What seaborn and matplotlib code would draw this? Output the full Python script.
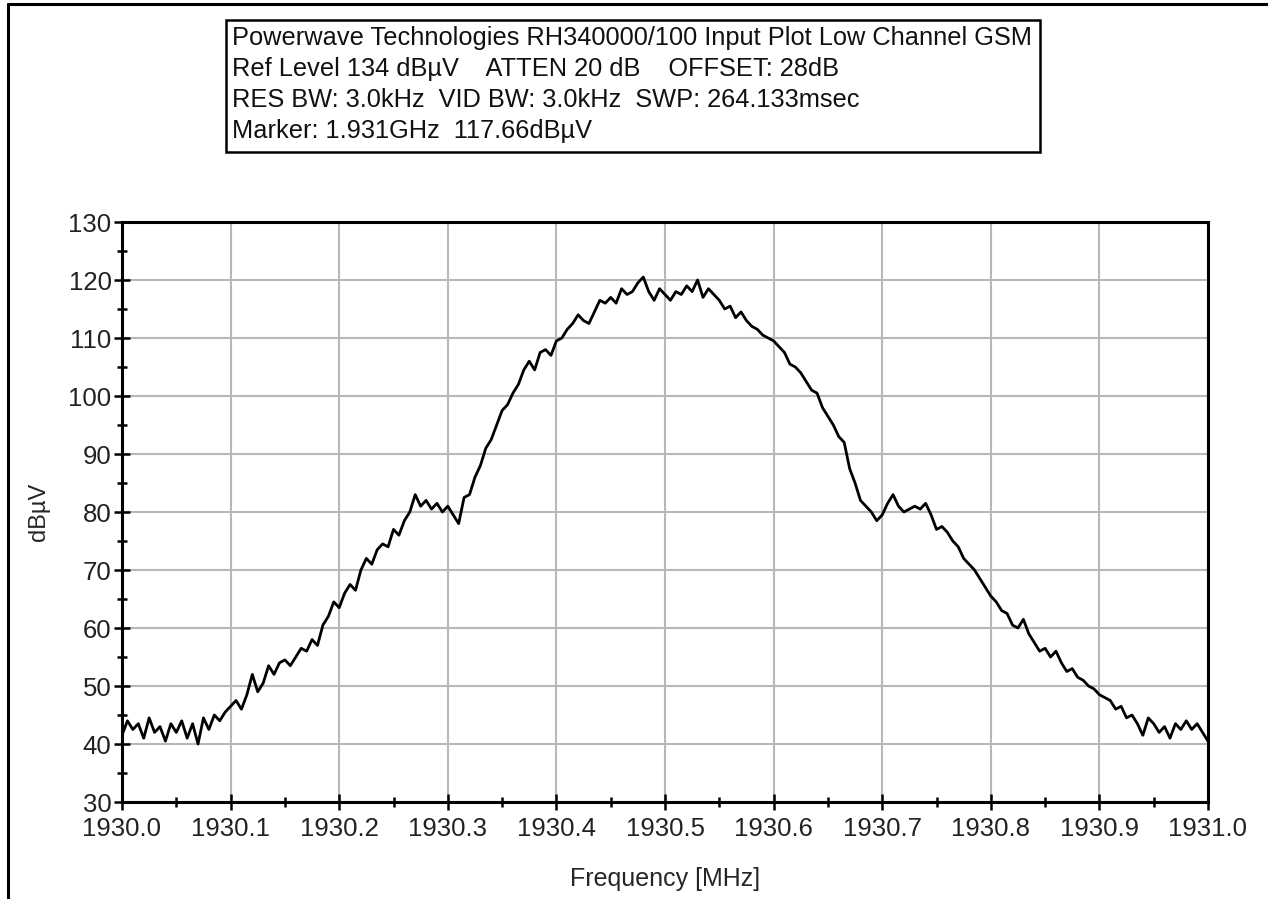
import numpy as np
import pandas as pd
import matplotlib
matplotlib.use("Agg")
import matplotlib.pyplot as plt
import seaborn as sns
from matplotlib.ticker import MultipleLocator, FormatStrFormatter
from matplotlib.lines import Line2D
from matplotlib.patches import Rectangle

# ---- data ----
freq_start = 1930.0   # MHz
freq_step = 0.005     # MHz
level_dbuv = [
    41.5, 44.0, 42.5, 43.5, 41.0, 44.5, 42.0, 43.0, 40.5, 43.5,
    42.0, 44.0, 41.0, 43.5, 40.0, 44.5, 42.5, 45.0, 44.0, 45.5,
    46.5, 47.5, 46.0, 48.5, 52.0, 49.0, 50.5, 53.5, 52.0, 54.0,
    54.5, 53.5, 55.0, 56.5, 56.0, 58.0, 57.0, 60.5, 62.0, 64.5,
    63.5, 66.0, 67.5, 66.5, 70.0, 72.0, 71.0, 73.5, 74.5, 74.0,
    77.0, 76.0, 78.5, 80.0, 83.0, 81.0, 82.0, 80.5, 81.5, 80.0,
    81.0, 79.5, 78.0, 82.5, 83.0, 86.0, 88.0, 91.0, 92.5, 95.0,
    97.5, 98.5, 100.5, 102.0, 104.5, 106.0, 104.5, 107.5, 108.0, 107.0,
    109.5, 110.0, 111.5, 112.5, 114.0, 113.0, 112.5, 114.5, 116.5, 116.0,
    117.0, 116.0, 118.5, 117.5, 118.0, 119.5, 120.5, 118.0, 116.5, 118.5,
    117.5, 116.5, 118.0, 117.5, 119.0, 118.0, 120.0, 117.0, 118.5, 117.5,
    116.5, 115.0, 115.5, 113.5, 114.5, 113.0, 112.0, 111.5, 110.5, 110.0,
    109.5, 108.5, 107.5, 105.5, 105.0, 104.0, 102.5, 101.0, 100.5, 98.0,
    96.5, 95.0, 93.0, 92.0, 87.5, 85.0, 82.0, 81.0, 80.0, 78.5,
    79.5, 81.5, 83.0, 81.0, 80.0, 80.5, 81.0, 80.5, 81.5, 79.5,
    77.0, 77.5, 76.5, 75.0, 74.0, 72.0, 71.0, 70.0, 68.5, 67.0,
    65.5, 64.5, 63.0, 62.5, 60.5, 60.0, 61.5, 59.0, 57.5, 56.0,
    56.5, 55.0, 56.0, 54.0, 52.5, 53.0, 51.5, 51.0, 50.0, 49.5,
    48.5, 48.0, 47.5, 46.0, 46.5, 44.5, 45.0, 43.5, 41.5, 44.5,
    43.5, 42.0, 43.0, 41.0, 43.5, 42.5, 44.0, 42.5, 43.5, 42.0,
    40.5,
]
freq_mhz = freq_start + freq_step * np.arange(len(level_dbuv))

info_lines = [
    "Powerwave Technologies RH340000/100 Input Plot Low Channel GSM",
    "Ref Level 134 dB\u00b5V    ATTEN 20 dB    OFFSET: 28dB",
    "RES BW: 3.0kHz  VID BW: 3.0kHz  SWP: 264.133msec",
    "Marker: 1.931GHz  117.66dB\u00b5V",
]
x_label = "Frequency [MHz]"
y_label = "dB\u00b5V"

# ---- style ----
sns.set_style("white")
plt.rcParams["font.family"] = ["Liberation Sans", "DejaVu Sans"]

W, H = 1268, 899
fig = plt.figure(figsize=(W / 100, H / 100), dpi=100)
ax = fig.add_axes([122 / W, 1 - 802 / H, (1208 - 122) / W, (802 - 222) / H])

df = pd.DataFrame({"freq": freq_mhz, "level": level_dbuv})
sns.lineplot(data=df, x="freq", y="level", ax=ax, color="black",
             linewidth=2.0, zorder=3)

ax.set_xlim(1930.0, 1931.0)
ax.set_ylim(30, 130)
ax.xaxis.set_major_locator(MultipleLocator(0.1))
ax.xaxis.set_minor_locator(MultipleLocator(0.05))
ax.xaxis.set_major_formatter(FormatStrFormatter("%.1f"))
ax.yaxis.set_major_locator(MultipleLocator(10))
ax.yaxis.set_minor_locator(MultipleLocator(5))

ax.grid(True, which="major", color="#b8b8b8", linewidth=1.5, zorder=0)
ax.set_axisbelow(True)

for s in ax.spines.values():
    s.set_visible(True)
    s.set_color("black")
    s.set_linewidth(2.2)

ax.tick_params(axis="both", which="both", bottom=True, left=True,
               top=False, right=False)
ax.tick_params(axis="both", which="major", direction="inout", length=11,
               width=1.8, color="black", labelsize=18.5, labelcolor="#222222")
ax.tick_params(axis="both", which="minor", direction="inout", length=7,
               width=1.8, color="black")
ax.tick_params(axis="x", which="major", pad=5)
ax.tick_params(axis="y", which="major", pad=2)

ax.set_xlabel(x_label, fontsize=18, labelpad=19)
ax.set_ylabel(y_label, fontsize=17, labelpad=13)

# ---- info box ----
box = Rectangle((226 / W, 1 - 152 / H), (1040 - 226) / W, (152 - 20) / H,
                transform=fig.transFigure, fill=False, edgecolor="black",
                linewidth=1.8)
fig.add_artist(box)
for k, line in enumerate(info_lines):
    fig.text(232 / W, 1 - (38 + 31 * k) / H, line, fontsize=18.3,
             ha="left", va="center", color="#111111")

# ---- page border lines ----
fig.add_artist(Line2D([8 / W, 8 / W], [0, 1 - 4 / H], transform=fig.transFigure,
                      color="black", linewidth=2.2))
fig.add_artist(Line2D([8 / W, 1], [1 - 4 / H, 1 - 4 / H], transform=fig.transFigure,
                      color="black", linewidth=2.2))

fig.savefig("out.png", dpi=100, facecolor="white")
